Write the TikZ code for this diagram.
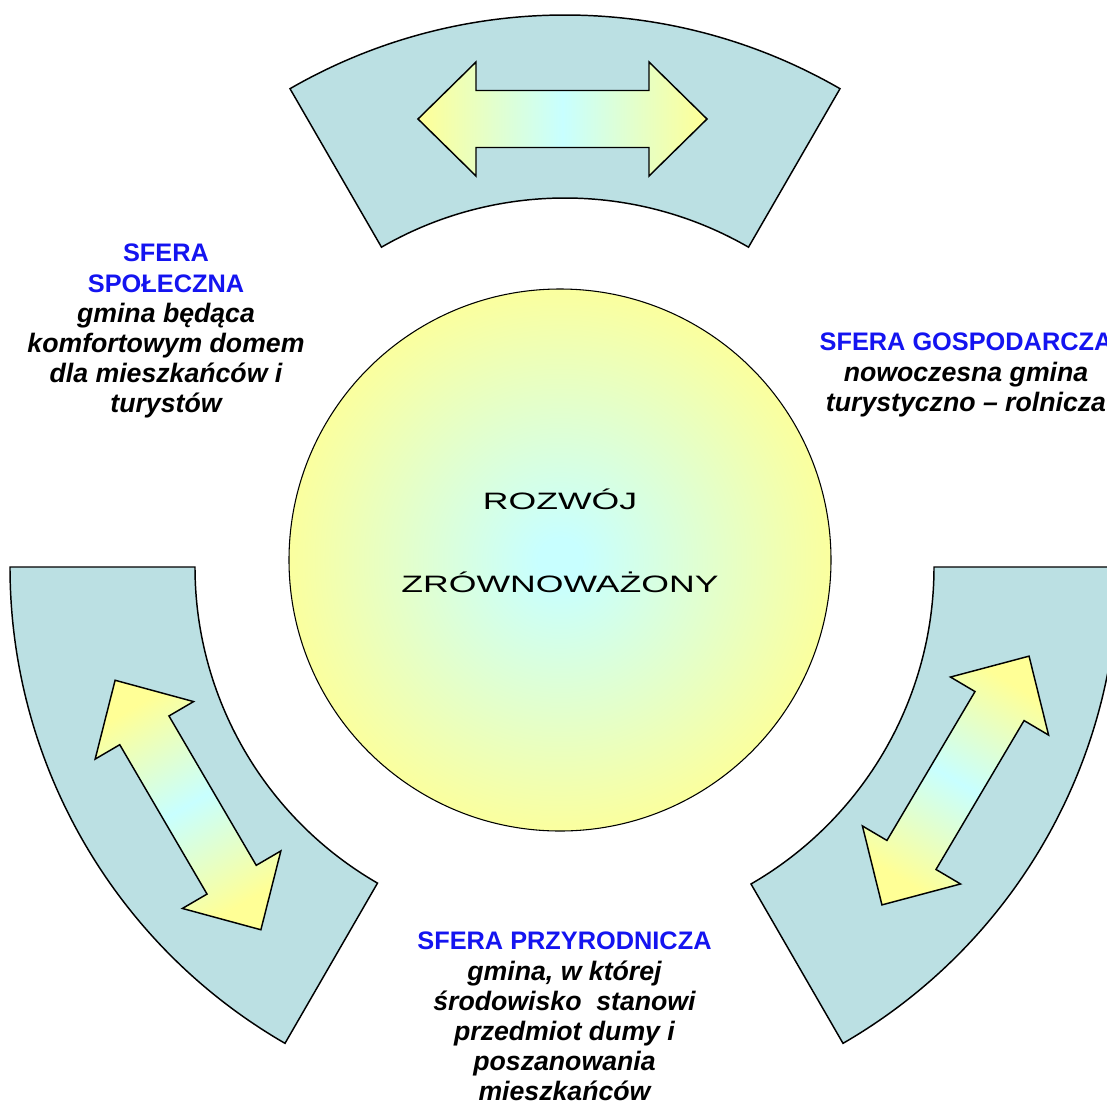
\documentclass[tikz,border=0pt]{standalone}
\usepackage{fontspec}
\setmainfont{Liberation Sans}
\usetikzlibrary{calc}
\definecolor{sectorfill}{RGB}{187,224,227}
\definecolor{paleyellow}{RGB}{255,255,150}
\definecolor{palecyan}{RGB}{200,255,255}
\definecolor{sferablue}{RGB}{20,20,240}
\pgfdeclareradialshading{ballshade}{\pgfpoint{0bp}{0bp}}{color(0bp)=(palecyan); color(2bp)=(palecyan); color(27bp)=(paleyellow); color(50bp)=(paleyellow)}
\tikzset{
  sector/.style={draw=black, line width=1.1pt, fill=sectorfill, line join=miter},
  dblarrow/.style={draw=black, line width=1.1pt, left color=paleyellow, right color=paleyellow, middle color=palecyan},
  sferatext/.style={align=center, inner sep=0pt, anchor=north, font=\fontsize{20pt}{22.65pt}\selectfont\bfseries\itshape},
  centretext/.style={inner sep=0pt, anchor=base, font=\fontsize{17.8pt}{21pt}\selectfont}
}
\newcommand{\sferahead}[1]{{\fontsize{19pt}{22.65pt}\selectfont\upshape\color{sferablue}#1}}
\newcommand{\arrowshape}{(-144.5,0) -- (-86.5,-57) -- (-86.5,-28.5) -- (86.5,-28.5) -- (86.5,-57) -- (144.5,0) -- (86.5,57) -- (86.5,28.5) -- (-86.5,28.5) -- (-86.5,57) -- cycle}
\begin{document}
\begin{tikzpicture}[x=0.75pt,y=-0.75pt]
\useasboundingbox (0,0) rectangle (1107,1101);
% sector centres
\coordinate (T) at (565,565);
\coordinate (L) at (560,567);
\coordinate (R) at (568,567);
% sectors
\draw[sector] ($(T)+(240:550)$) arc[start angle=240,end angle=300,radius=550] -- ($(T)+(300:367)$) arc[start angle=300,end angle=240,radius=367] -- cycle;
\draw[sector] ($(L)+(120:550)$) arc[start angle=120,end angle=180,radius=550] -- ($(L)+(180:365)$) arc[start angle=180,end angle=120,radius=365] -- cycle;
\draw[sector] ($(R)+(0:550)$) arc[start angle=0,end angle=60,radius=550] -- ($(R)+(60:366)$) arc[start angle=60,end angle=0,radius=366] -- cycle;
% arrows
\begin{scope}[shift={(562.5,119)}]
\draw[dblarrow] \arrowshape;
\end{scope}
\begin{scope}[shift={(188,805)}, rotate=-59.7]
\draw[dblarrow, shading angle=30.3] \arrowshape;
\end{scope}
\begin{scope}[shift={(955.5,780.5)}, rotate=59.4]
\draw[dblarrow, shading angle=-30.6] \arrowshape;
\end{scope}
% central circle
\node[circle, minimum size=542*0.75pt, inner sep=0pt, draw=black, line width=0.8pt, shading=ballshade] (ball) at (560,560) {};
\node[centretext] (rozwoj) at (560,509) {\scalebox{1.5}[1]{ROZWÓJ}};
\node[centretext] (zrown) at (560,592) {\scalebox{1.5}[1]{ZRÓWNOWAŻONY}};
% texts
\node[sferatext] (spol) at (166,244) {\sferahead{SFERA}\\\sferahead{SPOŁECZNA}\\gmina będąca\\komfortowym domem\\dla mieszkańców i\\turystów};
\node[sferatext] (gosp) at (966,333) {\sferahead{SFERA GOSPODARCZA}\\nowoczesna gmina\\turystyczno -- rolnicza};
\node[sferatext] (przyr) at (564.5,932) {\sferahead{SFERA PRZYRODNICZA}\\gmina, w której\\środowisko\ \ stanowi\\przedmiot dumy i\\poszanowania\\mieszkańców};
\end{tikzpicture}
\end{document}
